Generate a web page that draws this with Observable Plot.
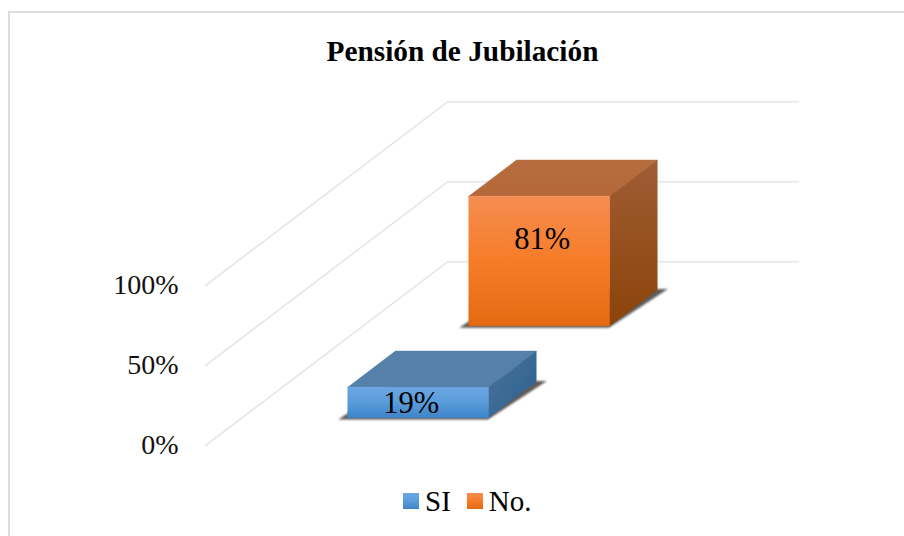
<!DOCTYPE html>
<html><head><meta charset="utf-8">
<script src="https://cdn.jsdelivr.net/npm/d3@7"></script>
<script src="https://cdn.jsdelivr.net/npm/@observablehq/plot@0.6"></script>
<style>
html,body{margin:0;padding:0;background:#fff;width:904px;height:536px;overflow:hidden}
#wrap{position:relative;width:904px;height:536px;font-family:"Liberation Serif",serif;color:#000}
#frame{position:absolute;left:8px;top:11px;right:0;bottom:0;border-left:2px solid #dcdcdc;border-top:2px solid #dcdcdc}
#title{position:absolute;left:0;width:925px;top:36px;text-align:center;font-weight:bold;font-size:29.3px;line-height:30px}
#legend{position:absolute;left:403px;top:485px;display:flex;align-items:center;font-size:29px;line-height:32px}
.sw{width:16px;height:16px;margin-right:6px}
svg{position:absolute;left:0;top:0;overflow:visible}
</style></head>
<body><div id="wrap"><div id="frame"></div><div id="chart"></div><div id="title"></div><div id="legend"></div></div>
<script>
const chartTitle = "Pensión de Jubilación";
const categories = ["SI", "No."];
const values = [19, 81];
const depthCenters = [0.25, 0.75];
const yTicks = [0, 50, 100];
const labelShift = [{dx: -7, dy: 1}, {dx: 3, dy: -22}];
const faceColors = [
  {front: ["#6ba6e2", "#5a9cdb", "#3d84c8"], top: ["#5480aa", "#5480aa"], side: ["#4c7399", "#2a6090"]},
  {front: ["#f58d52", "#f67c27", "#e46a12"], top: ["#b86d40", "#b4683a"], side: ["#a05d34", "#8b4309"]}
];

const skewX = 0.6875, skewY = 114.8, halfW = 0.2, halfD = 0.0985;
const project = (w, d, v) => ({x: w + d * skewX, y: v + d * skewY});
const poly = pts => pts.map(p => project(...p));

const defs = () => {
  const s = d3.create("svg:defs");
  const grad = (id, stops, x2 = 0) => {
    const g = s.append("linearGradient").attr("id", id).attr("x1", 0).attr("y1", 0).attr("x2", x2).attr("y2", 1);
    stops.forEach((c, i) => g.append("stop").attr("offset", i / (stops.length - 1)).attr("stop-color", c));
  };
  faceColors.forEach((f, i) => {
    grad(`front${i}`, f.front); grad(`top${i}`, f.top); grad(`side${i}`, f.side, i === 0 ? 1 : 0);
  });
  return s.node();
};

const gridMarks = yTicks.map(v => Plot.line(poly([[0, 0, v], [0, 1, v], [0.997, 1, v]]), {
  x: "x", y: "y", stroke: "#e6e6e6", strokeWidth: 1.6
}));

const barMarks = categories.flatMap((c, i) => {
  const v = values[i], d0 = depthCenters[i] - halfD, d1 = depthCenters[i] + halfD;
  const w0 = 0.5 - halfW, w1 = 0.5 + halfW;
  const shadow = poly([[w0 - 0.02, d0 - 0.01, 0], [w1 + 0.005, d0 - 0.01, 0], [w1 + 0.028, d1 + 0.003, 0], [w0, d1, 0]]);
  const face = (pts, id) => Plot.line(poly(pts), {x: "x", y: "y", fill: `url(#${id}${i})`, stroke: `url(#${id}${i})`, strokeWidth: 0.5});
  return [
    Plot.line(shadow, {x: "x", y: "y", fill: "#5d5a58", stroke: "none", imageFilter: "blur(1.2px)"}),
    face([[w0, d0, v], [w1, d0, v], [w1, d1, v], [w0, d1, v], [w0, d0, v]], "top"),
    face([[w1, d0, 0], [w1, d1, 0], [w1, d1, v], [w1, d0, v], [w1, d0, 0]], "side"),
    face([[w0, d0, 0], [w1, d0, 0], [w1, d0, v], [w0, d0, v], [w0, d0, 0]], "front"),
    Plot.text([{...project(0.5, d0, v / 2), t: `${v}%`}], {
      x: "x", y: "y", text: "t", fontSize: 30.5, fill: "#000",
      dx: labelShift[i].dx, dy: labelShift[i].dy
    })
  ];
});

const chart = Plot.plot({
  width: 904, height: 536,
  marginLeft: 205, marginRight: 347, marginTop: 285, marginBottom: 91,
  style: {fontFamily: "Liberation Serif", background: "transparent", overflow: "visible"},
  x: {domain: [0, 1], axis: null},
  y: {domain: [0, 100]},
  marks: [
    defs,
    ...gridMarks,
    Plot.axisY(yTicks, {
      tickSize: 0, tickPadding: 27, fontSize: 28, fill: "#111", label: null,
      tickFormat: d => `${d}%`
    }),
    ...barMarks
  ]
});
document.getElementById("chart").append(chart);
document.getElementById("title").textContent = chartTitle;

const legend = document.getElementById("legend");
categories.forEach((c, i) => {
  const sw = document.createElement("span");
  sw.className = "sw";
  sw.style.background = `linear-gradient(${faceColors[i].front.join(",")})`;
  const t = document.createElement("span");
  t.textContent = c;
  if (i === 0) t.style.marginRight = "16px";
  legend.append(sw, t);
});
</script></body></html>
